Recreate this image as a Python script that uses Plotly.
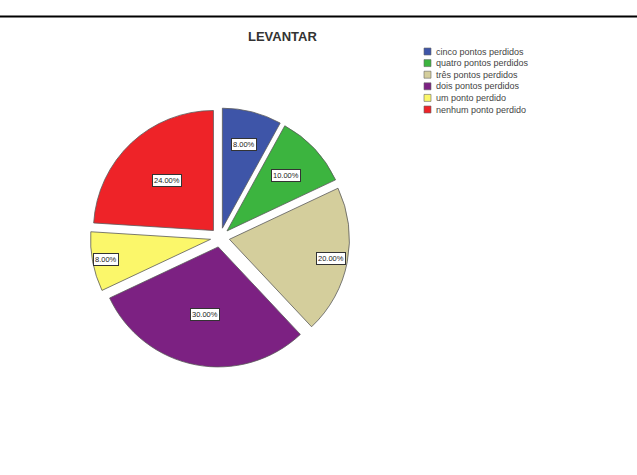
import math
import plotly.graph_objects as go

# Data
categories = [
    "cinco pontos perdidos",
    "quatro pontos perdidos",
    "três pontos perdidos",
    "dois pontos perdidos",
    "um ponto perdido",
    "nenhum ponto perdido",
]
percentages = [8.0, 10.0, 20.0, 30.0, 8.0, 24.0]
title_text = "LEVANTAR"

# Styling
colors = ["#3E55A8", "#3CB43F", "#D4CE9C", "#7C2182", "#FBF76A", "#EE2328"]
label_radius = [0.80, 0.75, 0.94, 0.655, 0.97, 0.65]  # label distance as fraction of radius
W, H = 637, 475
CX, CY, R = 220, 237.5, 120   # pie centre / radius in pixels
PULL = 0.08

def px_to_paper(x, y):
    return x / W, 1 - y / H

box = R * (1 + PULL)
x0, y_top = px_to_paper(CX - box, CY - box)
x1, y_bot = px_to_paper(CX + box, CY + box)

fig = go.Figure()
fig.add_trace(go.Pie(
    labels=categories,
    values=percentages,
    sort=False,
    direction="clockwise",
    rotation=0,
    pull=[PULL] * len(percentages),
    marker=dict(colors=colors, line=dict(color="#5a5a5a", width=0.8)),
    textinfo="none",
    showlegend=False,
    domain=dict(x=[x0, x1], y=[y_bot, y_top]),
))

annotations = []
shapes = []

# Percentage labels in boxes, placed along each slice's mid-angle
total = sum(percentages)
cum = 0.0
for v, f in zip(percentages, label_radius):
    mid = (cum + v / 2) / total * 2 * math.pi
    cum += v
    d = f * R
    lx = CX + d * math.sin(mid)
    ly = CY - d * math.cos(mid)
    ax, ay = px_to_paper(lx, ly)
    annotations.append(dict(
        x=ax, y=ay, xref="paper", yref="paper", showarrow=False,
        text=f"{v / total * 100:.2f}%",
        font=dict(family="Arial, Liberation Sans", size=7.5, color="#222"),
        bgcolor="white", bordercolor="#333", borderwidth=1, borderpad=1,
        xanchor="center", yanchor="middle",
    ))

# Legend: small swatches with names
LX, LY0, LSTEP, SW = 424, 51.5, 11.6, 7
for i, (name, c) in enumerate(zip(categories, colors)):
    yc = LY0 + i * LSTEP
    sx0, sy0 = px_to_paper(LX, yc - SW / 2)
    sx1, sy1 = px_to_paper(LX + SW, yc + SW / 2)
    shapes.append(dict(type="rect", xref="paper", yref="paper",
                       x0=sx0, x1=sx1, y0=sy1, y1=sy0,
                       fillcolor=c, line=dict(color="#666", width=0.6)))
    tx, ty = px_to_paper(LX + SW + 3, yc)
    annotations.append(dict(
        x=tx, y=ty, xref="paper", yref="paper", showarrow=False,
        text=name, xanchor="left", yanchor="middle",
        font=dict(family="Arial, Liberation Sans", size=9, color="#444"),
    ))

# Title
tx, ty = px_to_paper(282, 37)
annotations.append(dict(
    x=tx, y=ty, xref="paper", yref="paper", showarrow=False,
    text=f"<b>{title_text}</b>", xanchor="center", yanchor="middle",
    font=dict(family="Arial, Liberation Sans", size=13, color="#333"),
))

# Rule across the top
_, ly = px_to_paper(0, 16.5)
shapes.append(dict(type="line", xref="paper", yref="paper",
                   x0=0, x1=1, y0=ly, y1=ly, line=dict(color="black", width=2)))

fig.update_layout(
    width=W, height=H,
    margin=dict(l=0, r=0, t=0, b=0),
    paper_bgcolor="white", plot_bgcolor="white",
    annotations=annotations, shapes=shapes,
    showlegend=False,
)

fig.write_html("out.html")
